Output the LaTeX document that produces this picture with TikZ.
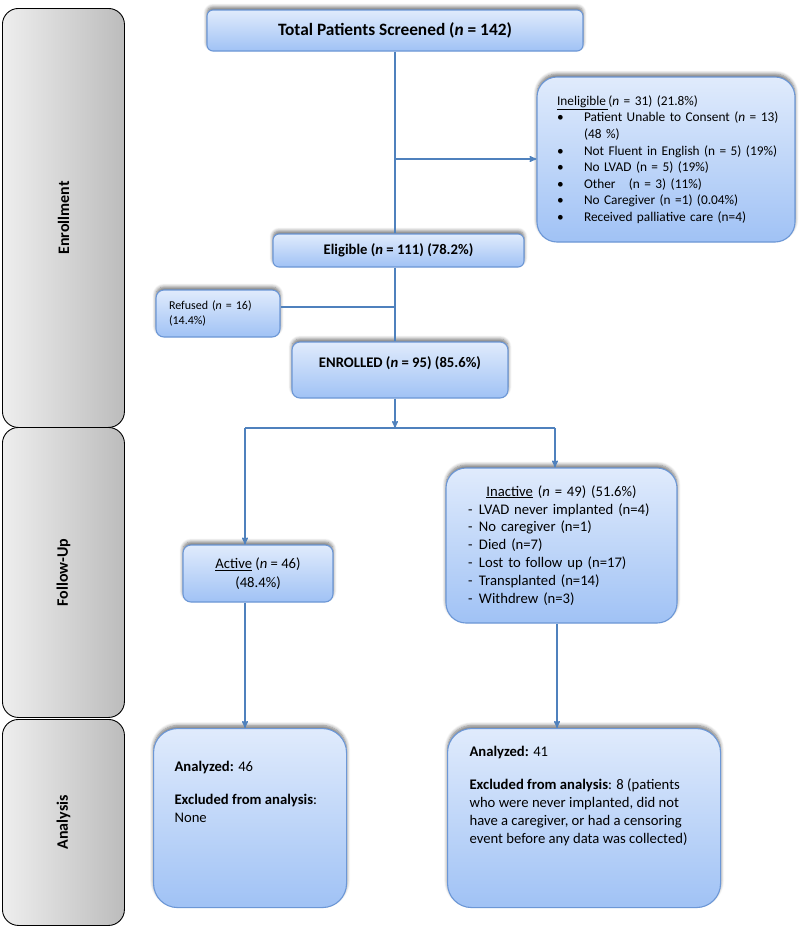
\documentclass[tikz,border=0pt]{standalone}
\usepackage{fontspec}
\setmainfont{Carlito}
\usepackage{graphicx}
\usetikzlibrary{arrows,calc,positioning,shadows.blur}

\definecolor{linkblue}{RGB}{79,129,189}
\definecolor{boxline}{RGB}{108,151,214}
\definecolor{filltop}{RGB}{224,235,252}
\definecolor{fillbot}{RGB}{160,194,245}
\definecolor{sideleft}{RGB}{238,238,238}
\definecolor{sideright}{RGB}{188,188,188}

\newcommand{\blt}[1]{\mbox{\makebox[27pt][l]{\textbullet}#1}}
\newcommand{\dsh}{\makebox[11pt][l]{-}}
\newcommand{\nit}{\textit{n}}

\begin{document}
\begin{tikzpicture}[x=1pt,y=-1pt]
	\tikzstyle{stage}=[draw=black, line width=0.9pt, rounded corners=16pt, left color=sideleft, right color=sideright, minimum width=122pt, inner sep=0pt, font=\fontsize{16}{19}\selectfont\bfseries]
	\tikzstyle{flowbox}=[draw=boxline, line width=1.1pt, top color=filltop, bottom color=fillbot, inner sep=0pt, blur shadow={shadow xshift=0pt, shadow yshift=3pt, shadow blur radius=3.5pt, shadow blur steps=6, shadow opacity=55}]
	\tikzstyle{link}=[draw=linkblue, line width=1.4pt]
	\tikzstyle{arrow}=[link,->,>=stealth']
	\def\bodyfont{\fontsize{14.67}{17.9}\selectfont}

	\useasboundingbox (0,0) rectangle (800,926);

	%stages
	\node[stage, minimum height=419pt, anchor=north west] (enrollment) at (2,8) {\rotatebox{90}{Enrollment}};
	\node[stage, minimum height=290pt, anchor=north west] (followup) at (2,427) {\rotatebox{90}{Follow-Up}};
	\node[stage, minimum height=206pt, anchor=north west] (analysis) at (2,719) {\rotatebox{90}{Analysis}};

	%enrollment boxes
	\node[flowbox, rounded corners=6pt, minimum width=376pt, minimum height=41pt, font=\fontsize{17.33}{20}\selectfont\bfseries] (total) at (395,30.5) {Total Patients Screened (\nit{} = 142)};
	\node[flowbox, rounded corners=20pt, minimum width=258pt, minimum height=165pt, text width=218pt, align=left, font=\fontsize{13.33}{16.6}\selectfont] (inelig) at (666,159.5) {%
		\mbox{\underline{Ineligible\,}(\nit{} = 31) (21.8\%)}\\
		\blt{Patient Unable to Consent (\nit{} = 13)}\\
		\hspace*{27pt}(48 \%)\\
		\blt{Not Fluent in English (n = 5) (19\%)}\\
		\blt{No LVAD (n = 5) (19\%)}\\
		\blt{Other \ \ (n = 3) (11\%)}\\
		\blt{No Caregiver (n =1) (0.04\%)}\\
		\blt{Received palliative care (n=4)}};
	\node[flowbox, rounded corners=6pt, minimum width=251pt, minimum height=33pt, font=\bodyfont\bfseries] (elig) at (398.5,250.5) {Eligible (\nit{} = 111) (78.2\%)};
	\node[flowbox, rounded corners=8pt, minimum width=124pt, minimum height=47pt, text width=98pt, align=left, font=\fontsize{12}{14.7}\selectfont] (refused) at (218,313.5) {Refused (\nit{} = 16)\\(14.4\%)};
	\node[flowbox, rounded corners=8pt, minimum width=216pt, minimum height=56pt, text depth=16pt, font=\bodyfont\bfseries] (enrolled) at (400,370) {ENROLLED (\nit{} = 95) (85.6\%)};

	%follow-up boxes
	\node[flowbox, rounded corners=8pt, minimum width=150pt, minimum height=57pt, align=center, font=\fontsize{14.67}{19}\selectfont] (active) at (258,573.5) {\underline{Active} (\nit{} = 46)\\(48.4\%)};
	\node[flowbox, rounded corners=20pt, minimum width=231pt, minimum height=155pt, text width=187pt, align=left, font=\bodyfont] (inactive) at (561.5,545.5) {%
		\makebox[187pt][c]{\underline{Inactive} (\nit{} = 49) (51.6\%)}\\
		\dsh LVAD never implanted (n=4)\\
		\dsh No caregiver (n=1)\\
		\dsh Died (n=7)\\
		\dsh Lost to follow up (n=17)\\
		\dsh Transplanted (n=14)\\
		\dsh Withdrew (n=3)};

	%analysis boxes
	\node[flowbox, rounded corners=24pt, anchor=north west, inner xsep=21pt, font=\bodyfont] (analyzedL) at (153,728) {\parbox[t][179pt][t]{151pt}{\vspace*{33pt}%
		\textbf{Analyzed:} 46\par\vspace{15pt}
		\textbf{Excluded from analysis}:\\None}};
	\node[flowbox, rounded corners=24pt, anchor=north west, inner xsep=22pt, font=\bodyfont] (analyzedR) at (447,728) {\parbox[t][179pt][t]{229pt}{\vspace*{18pt}%
		\textbf{Analyzed:} 41\par\vspace{15pt}
		\textbf{Excluded from analysis}: 8 (patients\\
		who were never implanted, did not\\
		have a caregiver, or had a censoring\\
		event before any data was collected)}};

	%trunk
	\coordinate (split1) at (395,159);
	\coordinate (split2) at (395,307);
	\coordinate (fork) at (395,428);
	\coordinate (forkL) at (245,428);
	\coordinate (forkR) at (555,428);
	\draw[link] (total.south) -- (total.south |- elig.north);
	\draw[arrow] (split1) -- (split1 -| inelig.west);
	\draw[link] (total.south |- elig.south) -- (total.south |- enrolled.north);
	\draw[link] (split2) -- (split2 -| refused.east);
	\draw[arrow] (total.south |- enrolled.south) -- (fork);

	%branches
	\draw[link] (forkL) -- (forkR);
	\draw[arrow] (forkL) -- (forkL |- active.north);
	\draw[arrow] (forkR) -- (forkR |- inactive.north);
	\draw[arrow] (forkL |- active.south) -- (forkL |- analyzedL.north);
	\draw[arrow] ([xshift=-4.5pt]inactive.south) -- ([xshift=-4.5pt]inactive.south |- analyzedR.north);
\end{tikzpicture}
\end{document}
